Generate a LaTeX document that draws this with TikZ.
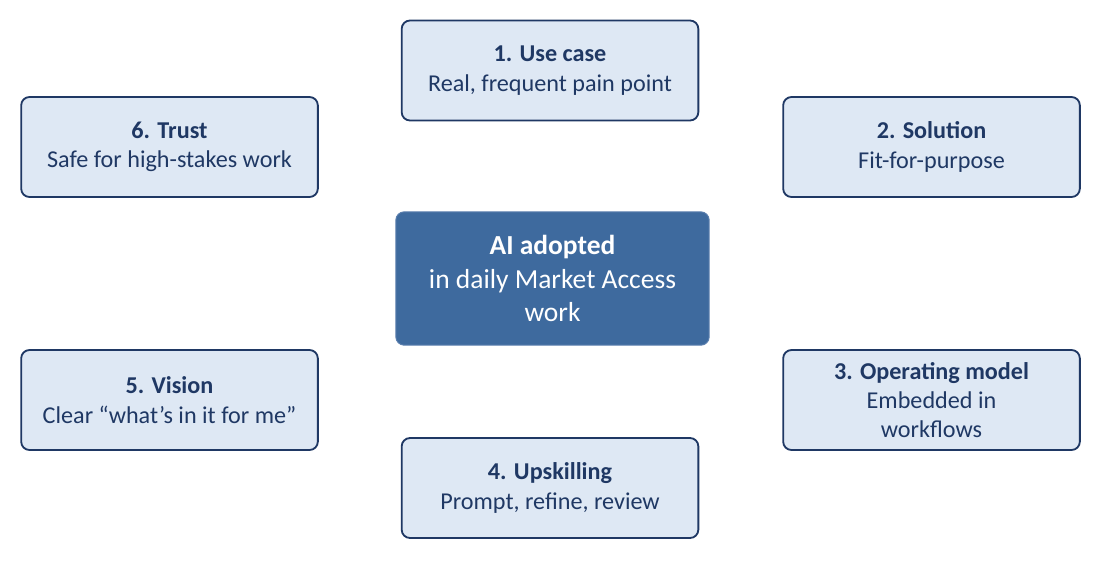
\documentclass[tikz,border=0pt]{standalone}
\usepackage{fontspec}
\setmainfont{Carlito}
\usepackage{tikz}
\usetikzlibrary{positioning, calc}
\definecolor{boxfill}{HTML}{DEE8F4}
\definecolor{boxline}{HTML}{1F3864}
\definecolor{hubfill}{HTML}{3E6A9E}
\definecolor{hubline}{HTML}{5B7FAE}

\tikzset{
  stepbox/.style={draw=boxline, fill=boxfill, line width=1.1pt, rounded corners=5pt,
    minimum width=178pt, minimum height=60pt, align=center, text=boxline,
    font=\fontsize{14.5}{17.6}\selectfont},
  hubbox/.style={draw=hubline, fill=hubfill, line width=0.6pt, rounded corners=5pt,
    minimum width=188pt, minimum height=80pt, align=center, text=white,
    font=\fontsize{16.5}{20.1}\selectfont}
}

\begin{document}
\begin{tikzpicture}[x=0.6pt, y=-0.6pt]
      \useasboundingbox (0, 0) rectangle (1099, 565);

      \node[hubbox] (hub) at (552.5, 278.5) {\textbf{AI adopted}\\in daily Market Access\\work};

      \node[stepbox] (usecase) at (550, 70.5) {\textbf{1. Use case}\\Real, frequent pain point};
      \node[stepbox] (solution) at (931.5, 147) {\textbf{2. Solution}\\Fit-for-purpose};
      \node[stepbox] (opmodel) at (931.5, 400) {\textbf{3. Operating model}\\Embedded in\\workflows};
      \node[stepbox] (upskill) at (550, 488) {\textbf{4. Upskilling}\\Prompt, refine, review};
      \node[stepbox] (vision) at (169.5, 400) {\textbf{5. Vision}\\Clear “what’s in it for me”};
      \node[stepbox] (trust) at (169.5, 147) {\textbf{6. Trust}\\Safe for high-stakes work};

    \end{tikzpicture}
\end{document}
